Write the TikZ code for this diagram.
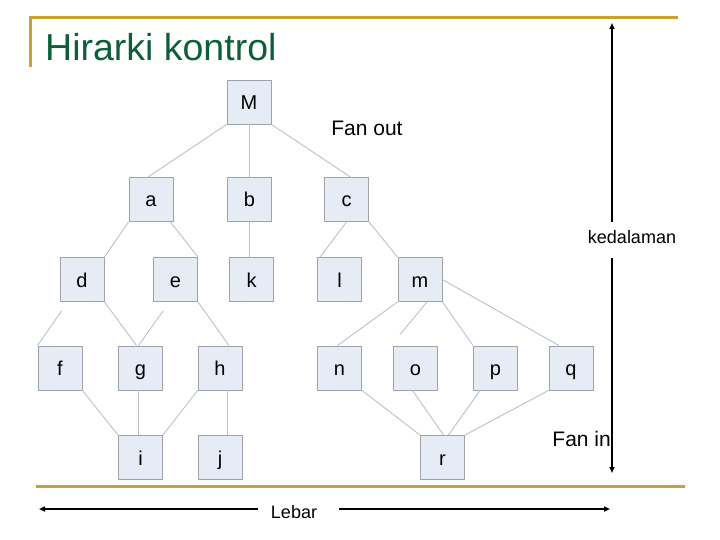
\documentclass[tikz,border=0pt]{standalone}
\usepackage{fontspec}
\setmainfont{Liberation Sans}
\usetikzlibrary{arrows.meta,calc}
\definecolor{gold}{RGB}{201,161,48}
\definecolor{titlegreen}{RGB}{14,94,58}
\definecolor{boxfill}{RGB}{230,236,246}
\definecolor{boxline}{RGB}{160,164,170}
\definecolor{edgecol}{RGB}{186,192,202}
\tikzset{
  box/.style={draw=boxline, fill=boxfill, line width=0.9pt, minimum width=44pt, minimum height=44pt, inner sep=0pt, text height=18pt, text depth=3pt, font=\fontsize{20}{20}\selectfont},
  edge/.style={draw=edgecol, line width=0.9pt},
  goldline/.style={draw=gold, line width=3pt},
  dimarrow/.style={draw=black, line width=1.8pt, -{Triangle[length=6pt,width=5pt]}},
  lbl/.style={inner sep=0pt, font=\fontsize{21}{21}\selectfont},
  smalllbl/.style={inner sep=0pt, font=\fontsize{18}{18}\selectfont}
}
\begin{document}
\begin{tikzpicture}[x=1pt,y=-1pt]
\useasboundingbox (0,0) rectangle (720,540);
% frame lines
\coordinate (g1) at (30,67);
\coordinate (g2) at (30,18);
\coordinate (g3) at (678,18);
\draw[goldline] (g1) -- (g2) -- (g3);
\coordinate (b1) at (36,486);
\coordinate (b2) at (685,486);
\draw[goldline] (b1) -- (b2);
% title
\node[anchor=base west, inner sep=0pt, text=titlegreen, font=\fontsize{37.5}{37.5}\selectfont] (title) at (45,61) {Hirarki kontrol};
% nodes
\node[box] (M) at (249,102) {M};
\node[box] (a) at (151,199.5) {a};
\node[box] (b) at (249.5,199.5) {b};
\node[box] (c) at (346.5,199.5) {c};
\node[box] (d) at (82,279.5) {d};
\node[box] (e) at (175.5,279.5) {e};
\node[box] (k) at (251.5,279.5) {k};
\node[box] (l) at (339.5,279.5) {l};
\node[box] (m) at (420,279.5) {m};
\node[box] (f) at (60,368) {f};
\node[box] (g) at (140.5,368) {g};
\node[box] (h) at (220,368) {h};
\node[box] (n) at (339.5,368) {n};
\node[box] (o) at (415.5,368) {o};
\node[box] (p) at (495.5,368) {p};
\node[box] (q) at (571,368) {q};
\node[box] (i) at (140.5,457.5) {i};
\node[box] (j) at (220,457.5) {j};
\node[box] (r) at (442.5,457.5) {r};
% edges
\draw[edge] (M.south west) -- ([xshift=-3pt]a.north);
\draw[edge] (M.south) -- (M.south |- b.north);
\draw[edge] (M.south east) -- ([xshift=4pt]c.north);
\draw[edge] (a.south west) -- (d.north east);
\draw[edge] ([xshift=-3pt]a.south east) -- (e.north east);
\draw[edge] ([xshift=-0.5pt]b.south) -- ([xshift=-0.5pt]b.south |- k.north);
\draw[edge] (c.south) -- ([xshift=3pt]l.north west);
\draw[edge] (c.south east) -- (m.north west);
\draw[edge] ($(d.south west)+(2,9)$) -- (f.north west);
\draw[edge] (d.south east) -- ([xshift=-4pt]g.north);
\draw[edge] ($(e.south west)+(10,9)$) -- ([xshift=-2pt]g.north);
\draw[edge] (e.south east) -- ([xshift=9pt]h.north);
\draw[edge] (m.south west) -- ([xshift=-2pt]n.north);
\draw[edge] ([xshift=7pt]m.south) -- ($(o.north west)+(7,-11)$);
\draw[edge] (m.south east) -- (p.north west);
\draw[edge] (m.east) -- ([xshift=-12pt]q.north);
\draw[edge] (f.south east) -- (i.north west);
\draw[edge] ([xshift=-2pt]g.south) -- ([xshift=-2pt]g.south |- i.north);
\draw[edge] (h.south west) -- (i.north east);
\draw[edge] ([xshift=7pt]h.south) -- ([xshift=7pt]h.south |- j.north);
\draw[edge] (n.south east) -- (r.north west);
\draw[edge] ([xshift=-3pt]o.south) -- ([xshift=1pt]r.north);
\draw[edge] ([xshift=7pt]p.south west) -- ([xshift=6pt]r.north);
\draw[edge] (q.south west) -- (r.north east);
% labels
\node[lbl] (fanout) at (367,128) {Fan out};
\node[lbl, anchor=east] (fanin) at (611,439) {Fan in};
% depth arrow
\node[smalllbl] (kedalaman) at (632,237) {kedalaman};
\coordinate (kdA) at (612,222);
\coordinate (kdTop) at (612,23);
\coordinate (kdB) at (612,258);
\coordinate (kdBot) at (612,473);
\draw[dimarrow] (kdA) -- (kdTop);
\draw[dimarrow] (kdB) -- (kdBot);
% width arrow
\node[smalllbl] (lebar) at (294,512) {Lebar};
\coordinate (lbA) at (258,509);
\coordinate (lbL) at (39,509);
\coordinate (lbB) at (339,509);
\coordinate (lbR) at (610,509);
\draw[dimarrow] (lbA) -- (lbL);
\draw[dimarrow] (lbB) -- (lbR);
\end{tikzpicture}
\end{document}
